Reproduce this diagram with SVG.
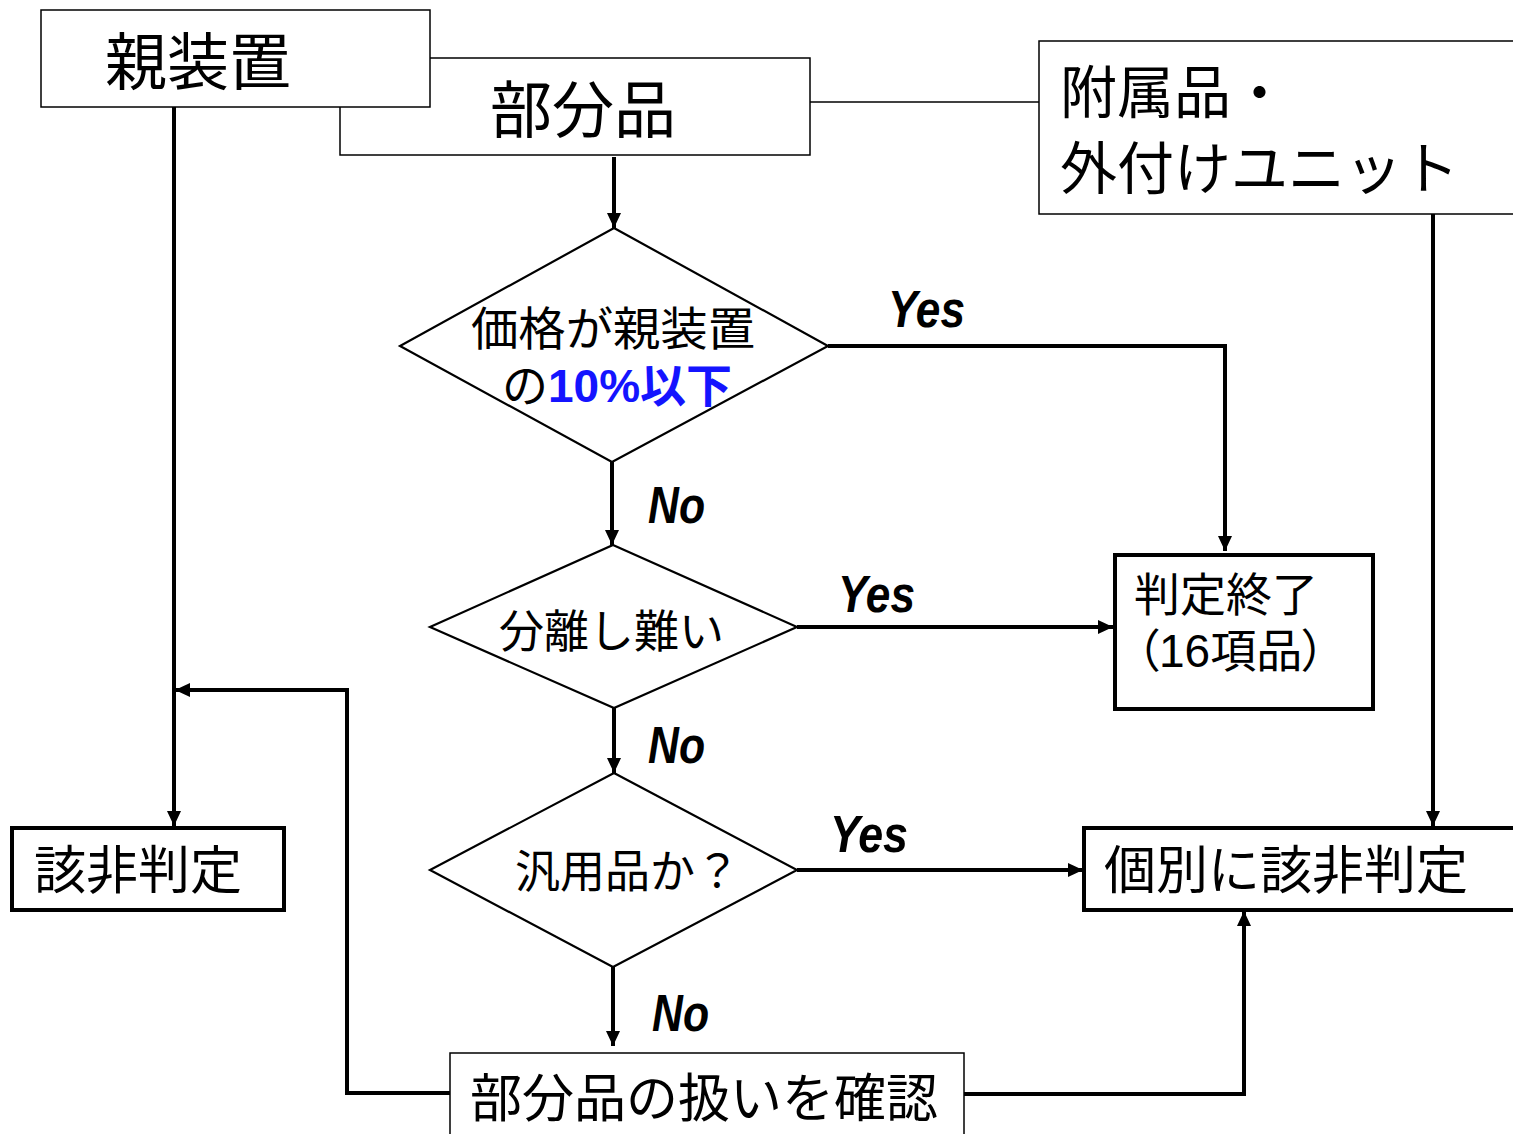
<svg xmlns="http://www.w3.org/2000/svg" width="1513" height="1134" viewBox="0 0 1513 1134">
<style>
.bg{fill:#fff}
.thin{fill:#fff;stroke:#000;stroke-width:1.5}
.thick{fill:#fff;stroke:#000;stroke-width:4}
.dia{fill:#fff;stroke:#000;stroke-width:2.2}
.jp{font-family:"Noto Sans CJK JP","Noto Sans CJK SC",sans-serif;fill:#000}
.lbl{font-family:"Liberation Sans",sans-serif;font-weight:bold;font-style:italic;font-size:52px;fill:#000}
.ln{fill:none;stroke:#000;stroke-width:4}
.ln1{fill:none;stroke:#000;stroke-width:1.5}
.blue{fill:#1414ff;font-weight:bold}
.palt{font-feature-settings:"palt"}
</style>
<defs>
<marker id="ah" markerUnits="userSpaceOnUse" markerWidth="16" markerHeight="14" refX="15" refY="7" orient="auto">
<path d="M0,0 L15,7 L0,14 z" fill="#000"/>
</marker>
</defs>
<rect class="bg" x="0" y="0" width="1513" height="1134"/>

<g id="connectors">
<line class="ln1" x1="810" y1="102" x2="1039" y2="102"/>
<line class="ln" x1="174" y1="107" x2="174" y2="826" marker-end="url(#ah)"/>
<line class="ln" x1="614" y1="157" x2="614" y2="228" marker-end="url(#ah)"/>
<polyline class="ln" points="828,346 1225,346 1225,551" marker-end="url(#ah)"/>
<line class="ln" x1="612" y1="462" x2="612" y2="545" marker-end="url(#ah)"/>
<line class="ln" x1="797" y1="627" x2="1113" y2="627" marker-end="url(#ah)"/>
<line class="ln" x1="614" y1="708" x2="614" y2="773" marker-end="url(#ah)"/>
<line class="ln" x1="797" y1="870" x2="1083" y2="870" marker-end="url(#ah)"/>
<line class="ln" x1="1433" y1="214" x2="1433" y2="826" marker-end="url(#ah)"/>
<line class="ln" x1="613" y1="967" x2="613" y2="1046" marker-end="url(#ah)"/>
<polyline class="ln" points="964,1094 1244,1094 1244,911" marker-end="url(#ah)"/>
<polyline class="ln" points="450,1093 347,1093 347,690 175,690" marker-end="url(#ah)"/>
<text class="lbl" x="888" y="327" textLength="77" lengthAdjust="spacingAndGlyphs">Yes</text>
<text class="lbl" x="648" y="523" textLength="57" lengthAdjust="spacingAndGlyphs">No</text>
<text class="lbl" x="838" y="612" textLength="77" lengthAdjust="spacingAndGlyphs">Yes</text>
<text class="lbl" x="648" y="763" textLength="57" lengthAdjust="spacingAndGlyphs">No</text>
<text class="lbl" x="830" y="852" textLength="78" lengthAdjust="spacingAndGlyphs">Yes</text>
<text class="lbl" x="652" y="1031" textLength="57" lengthAdjust="spacingAndGlyphs">No</text>
</g>

<g id="node-bubunhin">
<rect class="thin" x="340" y="58" width="470" height="97"/>
<text class="jp" x="490" y="133" font-size="62">部分品</text>
</g>

<g id="node-oya">
<rect class="thin" x="41" y="10" width="389" height="97"/>
<text class="jp" x="105" y="85" font-size="62">親装置</text>
</g>

<g id="node-fuzokuhin">
<rect class="thin" x="1039" y="41" width="480" height="173"/>
<text class="jp" x="1060" y="113" font-size="57">附属品・</text>
<text class="jp" x="1060" y="189" font-size="57">外付けユニット</text>
</g>

<g id="node-kakaku">
<polygon class="dia" points="614,228 828,346 612,462 400,346"/>
<text class="jp" x="471" y="345" font-size="46" textLength="284" lengthAdjust="spacingAndGlyphs">価格が親装置</text>
<text class="jp" x="502" y="402" font-size="46">の<tspan class="blue" font-family="Liberation Sans,sans-serif">10%</tspan><tspan class="blue">以下</tspan></text>
</g>

<g id="node-bunri">
<polygon class="dia" points="613,545 797,627 614,708 430,627"/>
<text class="jp" x="499" y="648" font-size="45">分離し難い</text>
</g>

<g id="node-hanyo">
<polygon class="dia" points="614,773 797,870 613,967 430,870"/>
<text class="jp" x="515" y="888" font-size="45">汎用品か？</text>
</g>

<g id="node-hantei-shuryo">
<rect class="thick" x="1115" y="555" width="258" height="154"/>
<text class="jp" x="1134" y="611" font-size="46">判定終了</text>
<text class="jp palt" x="1136" y="667" font-size="46">（<tspan font-family="Liberation Sans,sans-serif">16</tspan>項品）</text>
</g>

<g id="node-kobetsu">
<rect class="thick" x="1084" y="828" width="440" height="82"/>
<text class="jp" x="1104" y="889" font-size="52">個別に該非判定</text>
</g>

<g id="node-gaihi">
<rect class="thick" x="12" y="828" width="272" height="82"/>
<text class="jp" x="34" y="889" font-size="52">該非判定</text>
</g>

<g id="node-kakunin">
<rect class="thin" x="450" y="1053" width="514" height="90"/>
<text class="jp" x="470" y="1117" font-size="52">部分品の扱いを確認</text>
</g>
</svg>
